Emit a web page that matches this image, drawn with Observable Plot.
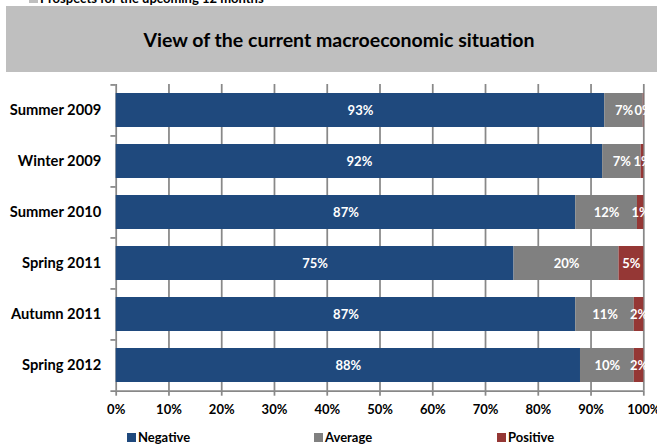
<!DOCTYPE html>
<html>
<head>
<meta charset="utf-8">
<script src="https://cdn.jsdelivr.net/npm/d3@7"></script>
<script src="https://cdn.jsdelivr.net/npm/@observablehq/plot@0.6"></script>
<style>
  html, body { margin: 0; padding: 0; background: #fff; }
  #wrap { position: relative; width: 657px; height: 448px; overflow: hidden; font-family: Lato, "Open Sans", sans-serif; }
  .toplegend { position: absolute; left: 29px; top: -10px; font: bold 13px Lato, sans-serif; color: #000; white-space: nowrap; display: flex; align-items: center; }
  .toplegend .sq { width: 9px; height: 9px; background: #bfbfbf; margin-right: 2px; }
  .titlebox { position: absolute; left: 6px; top: 6px; width: 666px; height: 66px; background: #bfbfbf;
              display: flex; align-items: center; justify-content: center; font: bold 19.5px Lato, sans-serif; color: #000; }
  #chart { position: absolute; left: 0; top: 76px; }
  .legend { position: absolute; top: 428px; left: 0; width: 657px; height: 20px; font: bold 13px Lato, sans-serif; color: #000; }
  .legend .item { position: absolute; top: 0; display: flex; align-items: center; height: 18px; white-space: nowrap; }
  .legend .sq { width: 9px; height: 9px; margin-right: 2px; }
</style>
</head>
<body>
<div id="wrap">
  <div class="toplegend"><span class="sq"></span>Prospects for the upcoming 12 months</div>
  <div class="titlebox">View of the current macroeconomic situation</div>
  <div id="chart"></div>
  <div class="legend" id="legend"></div>
</div>
<script>
const periods = ["Summer 2009", "Winter 2009", "Summer 2010", "Spring 2011", "Autumn 2011", "Spring 2012"];
const types = ["Negative", "Average", "Positive"];
const negative = [92.6, 92.2, 87.1, 75.4, 87.1, 88.0];
const average  = [7.3, 7.3, 11.7, 19.9, 11.1, 10.2];
const positive = [0.1, 0.5, 1.2, 4.7, 1.8, 1.8];
const xTicks = [0, 10, 20, 30, 40, 50, 60, 70, 80, 90, 100];
const colors = ["#1F497D", "#808080", "#953735"];

const series = [negative, average, positive];
const data = [];
periods.forEach((p, i) => {
  types.forEach((t, j) => data.push({period: p, type: t, value: series[j][i]}));
});

const W = 657, H = 350, mT = 8, mB = 35.3, mL = 115.7, mR = 13.7;
const half = (H - mT - mB) / periods.length / 2;
const axisColor = "#888888";

const chart = Plot.plot({
  width: W, height: H,
  marginLeft: mL, marginRight: mR, marginTop: mT, marginBottom: mB,
  style: {fontFamily: "Lato, sans-serif", background: "transparent", overflow: "visible"},
  x: {domain: [0, 100], axis: null},
  y: {domain: periods, paddingInner: 0.33, paddingOuter: 0.165, axis: null},
  color: {domain: types, range: colors},
  marks: [
    Plot.ruleX(xTicks, {x: d => d, stroke: axisColor, strokeWidth: 1.75}),
    Plot.barX(data, {x: "value", y: "period", fill: "type"}),
    Plot.text(data, Plot.stackX({x: "value", y: "period", text: d => Math.round(d.value) + "%",
      fill: "white", fontWeight: "bold", fontSize: 13})),
    Plot.ruleY(periods, {y: d => d, dy: -half, x1: -1, x2: 0, stroke: axisColor, strokeWidth: 1.75}),
    Plot.ruleY([periods[periods.length - 1]], {y: d => d, dy: half, x1: -1, x2: 100, stroke: axisColor, strokeWidth: 1.75}),
    Plot.axisX(xTicks, {tickSize: 5, tickPadding: 9, tickFormat: d => d + "%", fontSize: 13, fontWeight: "bold",
      stroke: axisColor, strokeWidth: 1.75, fill: "#000", label: null}),
    Plot.axisY({tickSize: 0, tickPadding: 15, fontSize: 14.7, fontWeight: "bold", fill: "#000", label: null})
  ]
});
document.getElementById("chart").appendChild(chart);

const legendX = [127, 314, 497];
const legend = document.getElementById("legend");
types.forEach((t, i) => {
  const item = document.createElement("div");
  item.className = "item";
  item.style.left = legendX[i] + "px";
  const sq = document.createElement("span");
  sq.className = "sq";
  sq.style.background = colors[i];
  item.appendChild(sq);
  item.appendChild(document.createTextNode(t));
  legend.appendChild(item);
});
</script>
</body>
</html>
